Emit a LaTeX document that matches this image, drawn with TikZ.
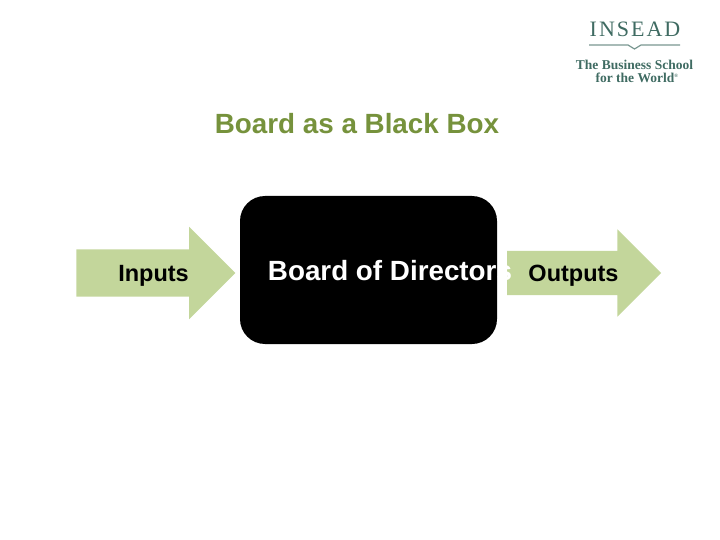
\documentclass[tikz,border=0pt]{standalone}
\usepackage{fontspec}
\setmainfont{Liberation Sans}
\newfontfamily\logofont{Liberation Serif}
\newfontfamily\logospaced[LetterSpace=9]{Liberation Serif}
\usetikzlibrary{shapes.arrows}
\definecolor{titlegreen}{HTML}{76923C}
\definecolor{arrowgreen}{HTML}{C3D69B}
\definecolor{logoteal}{HTML}{3F6B62}
\begin{document}
\begin{tikzpicture}[x=1pt,y=-1pt,
  flow/.style={single arrow,fill=arrowgreen,inner sep=0pt,single arrow tip angle=90,single arrow head indent=0pt},
  lab/.style={inner sep=0pt,font=\bfseries\fontsize{23.5}{26}\selectfont},
  logo/.style={inner sep=0pt,text=logoteal,font=\logofont\bfseries\fontsize{13.5}{15}\selectfont}]
\useasboundingbox (0,0) rectangle (720,540);
\node[inner sep=0pt,text=titlegreen,font=\bfseries\fontsize{27.8}{30}\selectfont] (title) at (357,124) {Board as a Black Box};
\node[flow,minimum height=159pt,minimum width=92pt,single arrow head extend=22.5pt] (inarrow) at (144,273) {\rule{0pt}{47pt}};
\node[flow,minimum height=154pt,minimum width=86pt,single arrow head extend=21.5pt] (outarrow) at (573,273) {\rule{0pt}{44pt}};
\node[fill=black,rounded corners=25pt,minimum width=257pt,minimum height=148pt,inner sep=0pt] (board) at (368.5,270) {};
\node[lab] (inputs) at (153.5,276) {Inputs};
\node[lab] (outputs) at (573.5,276) {Outputs};
\node[inner sep=0pt,text=white,font=\bfseries\fontsize{27.8}{30}\selectfont] (boardtext) at (390,271) {Board of Directors};
% logo
\node[inner sep=0pt,text=logoteal,font=\logospaced\fontsize{22}{24}\selectfont] (insead) at (635,29) {INSEAD};
\coordinate (rulel) at (589,45);
\coordinate (ruler) at (680,45);
\draw[logoteal!70,line width=1.2pt] (rulel) -- (628,45) -- (634.5,49) -- (641,45) -- (ruler);
\node[logo] (school) at (634.5,65) {The Business School};
\node[logo] (world) at (637,78) {for the World\textsuperscript{\tiny\textregistered}};
\end{tikzpicture}
\end{document}
